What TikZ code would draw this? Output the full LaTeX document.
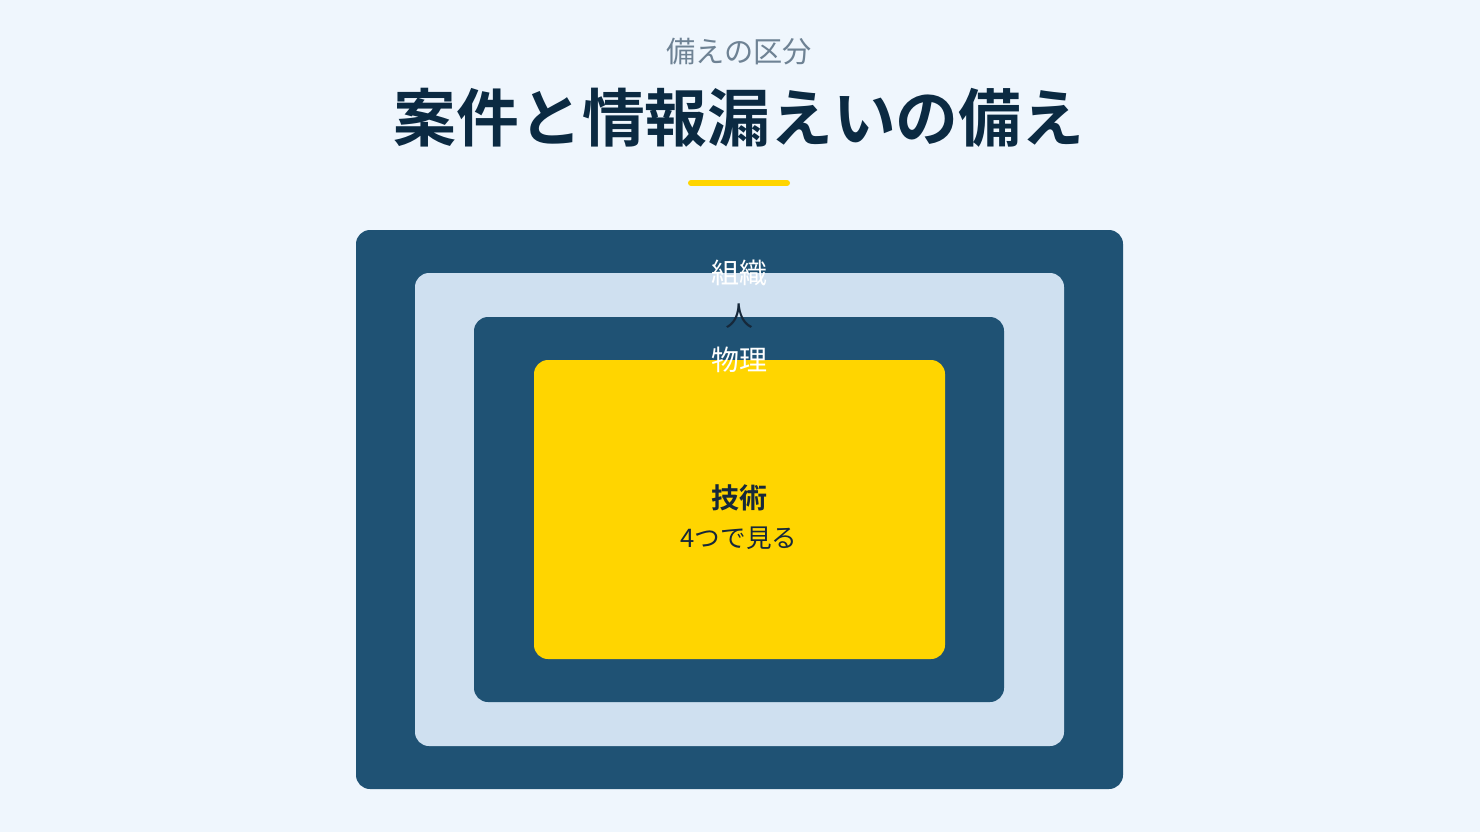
\documentclass[tikz,border=0pt]{standalone}
\usepackage{fontspec}
\setmainfont{Noto Sans CJK JP}[BoldFont={Noto Sans CJK JP Bold}]
\definecolor{bgc}{HTML}{EFF6FD}
\definecolor{navy}{HTML}{1F5274}
\definecolor{pale}{HTML}{CFE0F0}
\definecolor{gold}{HTML}{FFD500}
\definecolor{titlec}{HTML}{0B2A42}
\definecolor{subc}{HTML}{6E8294}
\definecolor{darkt}{HTML}{16283A}
\tikzset{
  layer/.style={rounded corners=7pt, inner sep=0pt, outer sep=0pt},
  lab/.style={inner sep=0pt, font=\fontsize{14}{16}\selectfont},
}
\begin{document}
\begin{tikzpicture}[x=0.5pt,y=-0.5pt]
\useasboundingbox (0,0) rectangle (1480,832);
\fill[bgc] (0,0) rectangle (1480,832);
\node[inner sep=0pt, text=subc, font=\fontsize{14.6}{16}\selectfont] (sub) at (739,52) {備えの区分};
\node[inner sep=0pt, text=titlec, font=\fontsize{31.4}{34}\selectfont\bfseries] (title) at (739,118) {案件と情報漏えいの備え};
\coordinate (ul) at (691,183);
\coordinate (ur) at (787,183);
\draw[gold, line width=3pt, line cap=round] (ul) -- (ur);
\path[layer, fill=navy] (356,230) rectangle (1123,789);
\path[layer, fill=pale] (415,273) rectangle (1064,746);
\path[layer, fill=navy] (474,317) rectangle (1004,702);
\path[layer, fill=gold] (534,360) rectangle (945,659);
\node[lab, text=white] (org) at (739,273) {組織};
\node[lab, text=darkt] (ppl) at (739,316) {人};
\node[lab, text=white] (phy) at (739,360) {物理};
\node[lab, text=darkt, font=\fontsize{14}{16}\selectfont\bfseries] (tech) at (739,498) {技術};
\node[lab, text=darkt, font=\fontsize{12.8}{15}\selectfont] (four) at (739,538) {4つで見る};
\end{tikzpicture}
\end{document}
